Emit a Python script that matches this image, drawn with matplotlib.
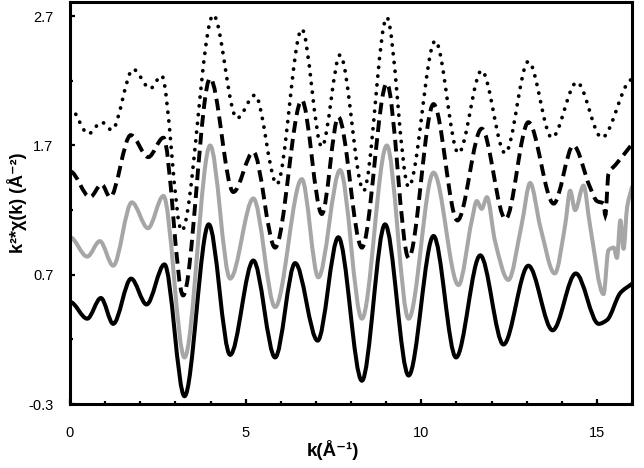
import numpy as np
import matplotlib
matplotlib.use("Agg")
import matplotlib.pyplot as plt
from matplotlib.path import Path
from matplotlib.patches import PathPatch
from matplotlib.ticker import FixedLocator

plt.rcParams['font.family'] = ['Liberation Sans', 'DejaVu Sans']

# ---- data (k in 1/Angstrom, k^2*chi offset curves) ----
k_solid = [0.00, 0.49, 0.88, 1.23, 1.74, 2.18, 2.69, 3.26, 3.95, 4.56, 5.22, 5.84,
           6.41, 7.05, 7.64, 8.31, 8.97, 9.64, 10.35, 10.99, 11.68, 12.34, 13.05,
           13.74, 14.40, 15.05, 15.29, 15.67, 16.00]
y_solid = [0.49, 0.36, 0.52, 0.32, 0.67, 0.47, 0.78, -0.24, 1.09, 0.08, 0.81, 0.06,
           0.79, 0.19, 0.99, -0.12, 1.09, -0.08, 1.00, 0.06, 0.85, 0.16, 0.77,
           0.27, 0.71, 0.32, 0.35, 0.56, 0.63]

k_gray = [0.00, 0.49, 0.85, 1.23, 1.76, 2.22, 2.66, 3.26, 3.99, 4.56, 5.22, 5.84,
          6.60, 7.07, 7.69, 8.31, 9.02, 9.64, 10.35, 11.06, 11.44, 11.58, 11.72,
          11.87, 12.10, 12.48, 12.86, 13.10, 13.39, 13.80, 14.10, 14.24, 14.38,
          14.62, 14.80, 15.19, 15.33, 15.48, 15.57, 15.67, 15.76, 15.86, 16.00]
y_gray = [0.99, 0.84, 0.96, 0.77, 1.26, 1.06, 1.31, 0.06, 1.70, 0.67, 1.29, 0.45,
          1.44, 0.68, 1.51, 0.36, 1.70, 0.36, 1.49, 0.62, 1.12, 1.27, 1.21,
          1.30, 0.96, 0.66, 1.09, 1.41, 1.07, 0.71, 1.09, 1.35, 1.20,
          1.39, 1.09, 0.55, 0.89, 0.91, 0.83, 1.12, 0.90, 1.22, 1.38]

k_dash = [0.00, 0.57, 0.90, 1.14, 1.73, 2.23, 2.66, 3.22, 3.99, 4.65, 5.22, 5.84,
          6.60, 7.17, 7.64, 8.31, 9.02, 9.64, 10.35, 11.03, 11.72, 12.40, 13.05,
          13.77, 14.33, 14.80, 15.00, 15.19, 15.24, 15.33, 15.53, 15.71, 16.00]
y_dash = [1.50, 1.30, 1.40, 1.30, 1.78, 1.61, 1.76, 0.54, 2.22, 1.34, 1.65, 0.91,
          2.05, 1.17, 1.92, 0.91, 2.18, 0.83, 2.02, 1.12, 1.83, 1.13, 1.88,
          1.25, 1.70, 1.38, 1.27, 1.25, 1.16, 1.48, 1.55, 1.61, 1.71]

k_dot = [0.00, 0.52, 0.90, 1.19, 1.80, 2.28, 2.61, 3.18, 4.08, 4.75, 5.27, 5.89,
         6.60, 7.17, 7.69, 8.36, 9.02, 9.64, 10.40, 11.06, 11.72, 12.39, 13.05,
         13.72, 14.43, 15.14, 16.00]
y_dot = [1.99, 1.79, 1.88, 1.82, 2.29, 2.14, 2.24, 1.04, 2.71, 1.91, 2.09, 1.40,
         2.60, 1.69, 2.40, 1.35, 2.69, 1.38, 2.51, 1.64, 2.28, 1.64, 2.35,
         1.76, 2.19, 1.76, 2.21]

x_major = [0, 5, 10, 15]
y_major = [-0.3, 0.7, 1.7, 2.7]
y_labels = ['-0.3', '0.7', '1.7', '2.7']


def smooth_path(x, y):
    """Build a smooth cubic-Bezier path through the read points (drawn by matplotlib)."""
    x = np.asarray(x, float)
    y = np.asarray(y, float)
    h = np.diff(x)
    d = np.diff(y) / h
    n = len(x)
    m = np.zeros(n)
    m[0] = d[0] if d[0] * (d[1] if n > 2 else d[0]) > 0 else 0.0
    m[-1] = d[-1] if d[-1] * d[-2] > 0 else 0.0
    for i in range(1, n - 1):
        if d[i - 1] * d[i] > 0:
            w1 = 2 * h[i] + h[i - 1]
            w2 = h[i] + 2 * h[i - 1]
            m[i] = (w1 + w2) / (w1 / d[i - 1] + w2 / d[i])
    verts = [(x[0], y[0])]
    codes = [Path.MOVETO]
    for i in range(n - 1):
        verts += [(x[i] + h[i] / 3, y[i] + m[i] * h[i] / 3),
                  (x[i + 1] - h[i] / 3, y[i + 1] - m[i + 1] * h[i] / 3),
                  (x[i + 1], y[i + 1])]
        codes += [Path.CURVE4] * 3
    return Path(verts, codes)


fig = plt.figure(figsize=(6.44, 4.68), dpi=100)
ax = fig.add_axes([70 / 644, 1 - 404 / 468, 562 / 644, 402 / 468])

series = [
    (k_gray, y_gray, dict(edgecolor='#a6a6a6', linewidth=2.9, linestyle='-', capstyle='round', joinstyle='round')),
    (k_solid, y_solid, dict(edgecolor='black', linewidth=2.9, linestyle='-', capstyle='round', joinstyle='round')),
    (k_dash, y_dash, dict(edgecolor='black', linewidth=2.8, linestyle=(0, (3.0, 1.6)), capstyle='butt')),
    (k_dot, y_dot, dict(edgecolor='black', linewidth=2.7, linestyle=(0, (0.05, 2.3)), capstyle='round')),
]
for kx, ky, style in series:
    ax.add_patch(PathPatch(smooth_path(kx, ky), transform=ax.transData, fill=False, **style))

ax.set_xlim(0, 16)
ax.set_ylim(-0.3, 2.81)

ax.xaxis.set_major_locator(FixedLocator(x_major))
ax.xaxis.set_minor_locator(FixedLocator([v for v in range(0, 17) if v not in x_major]))
ax.yaxis.set_major_locator(FixedLocator(y_major))
ax.yaxis.set_minor_locator(FixedLocator([0.2, 1.2, 2.2]))
ax.set_yticklabels(y_labels)
ax.set_xticklabels([str(v) for v in x_major])

for s in ax.spines.values():
    s.set_linewidth(2.2)
ax.tick_params(which='major', direction='in', length=3.6, width=1.6, labelsize=10.5,
               top=False, right=False)
ax.tick_params(axis='x', which='major', pad=16)
ax.tick_params(axis='y', which='major', pad=12)
ax.tick_params(which='minor', direction='in', length=2.5, width=1.6, top=False, right=False)

ax.set_xlabel('k(Å⁻¹)', fontsize=13.5, fontweight='bold', va='center')
ax.xaxis.set_label_coords((333 - 70) / 562, (404 - 450) / 402)
ax.set_ylabel('k²*χ(k) (Å⁻²)', fontsize=13, fontweight='bold', va='center')
ax.yaxis.set_label_coords((17 - 70) / 562, 0.5)

fig.savefig('out.png', dpi=100)
